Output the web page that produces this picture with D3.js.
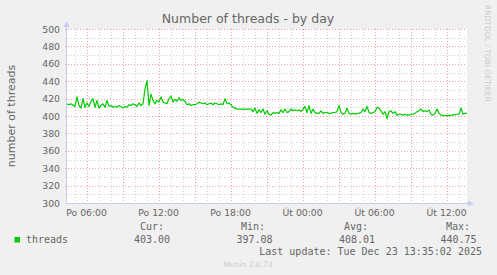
<!DOCTYPE html>
<html><head><meta charset="utf-8">
<script src="https://cdn.jsdelivr.net/npm/d3@7/dist/d3.min.js"></script>
<style>
html,body{margin:0;padding:0;background:#f0f0f0;}
svg{display:block;}
text{font-family:"DejaVu Sans",sans-serif;}
.mono{font-family:"DejaVu Sans Mono",monospace;}
</style></head>
<body>
<svg id="c" width="497" height="275"></svg>
<script>
// ---- data ----
const title = "Number of threads - by day";
const yAxisTitle = "number of threads";
const seriesName = "threads";
const startTime = new Date(2025, 11, 22, 4, 22);   // Mon 22 Dec 2025 04:22
const stepMinutes = 10;
const threads = [
  413.8, 413, 414, 412.5, 411, 422, 412, 409, 420, 410,
  415, 411, 417, 420, 410, 418, 409, 412, 414, 410,
  418, 411, 412, 410, 411, 410, 412, 411, 409, 411,
  410, 413, 412, 414, 413, 411, 415, 412, 414, 431,
  440.75, 412, 425, 418, 414, 418, 416, 422, 416, 415,
  414, 420, 423, 416, 419, 417, 421, 418, 419, 417,
  413, 414, 412, 413, 413, 414, 416, 415, 414, 415,
  413, 414, 415, 413, 415, 414, 413, 414, 413, 420,
  414, 415, 413, 410, 409, 408, 408, 408, 408, 408,
  408, 408, 408, 405, 409, 403, 407, 404, 408, 402,
  406, 402, 401, 404, 403, 404, 403, 407, 404, 408,
  404, 405, 408, 406, 407, 406, 407, 405, 408, 411,
  404, 412, 403, 408, 404, 403, 403, 406, 403, 404,
  404, 403, 403, 404, 404, 405, 412, 404, 402, 403,
  409, 403, 402, 403, 402, 403, 403, 404, 408, 405,
  411, 404, 403, 404, 405, 410, 409, 406, 402, 405,
  397.08, 405, 406, 403, 405, 401, 402, 402, 401, 402,
  401, 401, 402, 402, 403, 405, 406, 408, 405, 406,
  405, 407, 402, 401, 403, 408, 403, 401, 400.5, 400.5,
  400.5, 400.5, 401, 401, 401.5, 402, 402, 409, 402, 403,
  403
];
const yTicks = [300, 320, 340, 360, 380, 400, 420, 440, 460, 480, 500];
const xTickTimes = [
  new Date(2025, 11, 22, 6), new Date(2025, 11, 22, 12), new Date(2025, 11, 22, 18),
  new Date(2025, 11, 23, 0), new Date(2025, 11, 23, 6), new Date(2025, 11, 23, 12)
];
const xTickLabels = ["Po 06:00", "Po 12:00", "Po 18:00", "Út 00:00", "Út 06:00", "Út 12:00"];
const statNames = ["Cur:", "Min:", "Avg:", "Max:"];
const statValues = ["403.00", "397.08", "408.01", "440.75"];
const lastUpdate = "Last update: Tue Dec 23 13:35:02 2025";
const version = "Munin 2.0.73";
const watermark = "RRDTOOL / TOBI OETIKER";

// ---- drawing ----
const svg = d3.select("#c");
const L = 67, R = 467, T = 29, B = 203;
const endTime = d3.timeMinute.offset(startTime, stepMinutes * (threads.length - 1));
const x = d3.scaleTime().domain([startTime, endTime]).range([L, R]);
const y = d3.scaleLinear().domain([300, 500]).range([B, T]);
const data = threads.map((v, i) => ({t: d3.timeMinute.offset(startTime, i * stepMinutes), v}));

const textCol = "#666666";
const minorCol = "#d2d2d2";
const majorCol = "#f0a0a0";
const axisCol = "#c8ccf4";

svg.append("rect").attr("x", 0).attr("y", 0).attr("width", 497).attr("height", 275).attr("fill", "#f0f0f0");
svg.append("rect").attr("x", L).attr("y", T).attr("width", R - L).attr("height", B - T).attr("fill", "#ffffff");

const g = svg.append("g");
// minor horizontal grid (every 10)
const minorY = d3.range(310, 500, 20);
g.selectAll(".mh").data(minorY).enter().append("line")
  .attr("x1", L - 2).attr("x2", R).attr("y1", d => Math.round(y(d)) + 0.5).attr("y2", d => Math.round(y(d)) + 0.5)
  .attr("stroke", minorCol).attr("stroke-dasharray", "1,2");
// minor vertical grid (every hour)
const hours = d3.timeHour.range(startTime, endTime).filter(d => d.getHours() % 3 !== 0);
g.selectAll(".mv").data(hours).enter().append("line")
  .attr("y1", T).attr("y2", B + 2).attr("x1", d => Math.round(x(d)) + 0.5).attr("x2", d => Math.round(x(d)) + 0.5)
  .attr("stroke", minorCol).attr("stroke-dasharray", "1,2");
// major horizontal grid
g.selectAll(".Mh").data(yTicks.filter(d => d > 300)).enter().append("line")
  .attr("x1", L - 2).attr("x2", R).attr("y1", d => Math.round(y(d)) + 0.5).attr("y2", d => Math.round(y(d)) + 0.5)
  .attr("stroke", majorCol).attr("stroke-dasharray", "1,2");
// major vertical grid (every 3 hours)
const major = d3.timeHour.range(startTime, endTime).filter(d => d.getHours() % 3 === 0);
g.selectAll(".Mv").data(major).enter().append("line")
  .attr("y1", T).attr("y2", B + 3).attr("x1", d => Math.round(x(d)) + 0.5).attr("x2", d => Math.round(x(d)) + 0.5)
  .attr("stroke", majorCol).attr("stroke-dasharray", "1,2");

// axes
svg.append("line").attr("x1", L - 0.5).attr("x2", L - 0.5).attr("y1", B + 0.5).attr("y2", 24).attr("stroke", axisCol);
svg.append("path").attr("d", `M${L - 3.5},27 L${L - 0.5},21 L${L + 2.5},27 Z`).attr("fill", axisCol);
svg.append("line").attr("x1", L - 0.5).attr("x2", 471).attr("y1", B + 0.5).attr("y2", B + 0.5).attr("stroke", axisCol);
svg.append("path").attr("d", `M468,${B - 2.5} L474,${B + 0.5} L468,${B + 3.5} Z`).attr("fill", axisCol);

// data line
svg.append("path").datum(data)
  .attr("d", d3.line().x(d => x(d.t)).y(d => y(d.v)))
  .attr("fill", "none").attr("stroke", "#00cc00").attr("stroke-width", 1.2).attr("stroke-linejoin", "round");

// y tick labels
svg.selectAll(".yl").data(yTicks).enter().append("text")
  .attr("x", 60).attr("y", d => y(d) + 3.5).attr("text-anchor", "end")
  .attr("font-size", "9.3px").attr("fill", textCol).text(d => d);
// x tick labels
svg.selectAll(".xl").data(xTickTimes).enter().append("text")
  .attr("x", d => x(d)).attr("y", 215.5).attr("text-anchor", "middle")
  .attr("font-size", "9.3px").attr("fill", textCol).text((d, i) => xTickLabels[i]);

// title
svg.append("text").attr("x", 248).attr("y", 23).attr("text-anchor", "middle")
  .attr("font-size", "12.5px").attr("fill", textCol).text(title);
// y axis title
svg.append("text").attr("transform", "translate(15,116) rotate(-90)").attr("text-anchor", "middle")
  .attr("font-size", "11px").attr("fill", textCol).text(yAxisTitle);
// watermark
svg.append("text").attr("transform", "translate(485,5) rotate(90)").attr("text-anchor", "start")
  .attr("font-size", "7.5px").attr("fill", "#cccccc").text(watermark);

// legend
svg.append("rect").attr("x", 14.5).attr("y", 237).attr("width", 5.5).attr("height", 5.5).attr("fill", "#00cc00");
svg.append("text").attr("class", "mono").attr("x", 26).attr("y", 242.5).attr("font-size", "10px").attr("fill", textCol).text(seriesName);
const headEnds = [164, 265, 368, 470];
const valEnds = [170, 272.5, 375, 476.5];
statNames.forEach((s, i) => {
  svg.append("text").attr("class", "mono").attr("x", headEnds[i]).attr("y", 229.5).attr("text-anchor", "end")
    .attr("font-size", "10px").attr("fill", textCol).text(s);
  svg.append("text").attr("class", "mono").attr("x", valEnds[i]).attr("y", 242.5).attr("text-anchor", "end")
    .attr("font-size", "10px").attr("fill", textCol).text(statValues[i]);
});
svg.append("text").attr("class", "mono").attr("x", 482).attr("y", 255).attr("text-anchor", "end")
  .attr("font-size", "10px").attr("fill", textCol).text(lastUpdate);
svg.append("text").attr("x", 248).attr("y", 267).attr("text-anchor", "middle")
  .attr("font-size", "7.5px").attr("fill", "#cccccc").text(version);
</script>
</body></html>
